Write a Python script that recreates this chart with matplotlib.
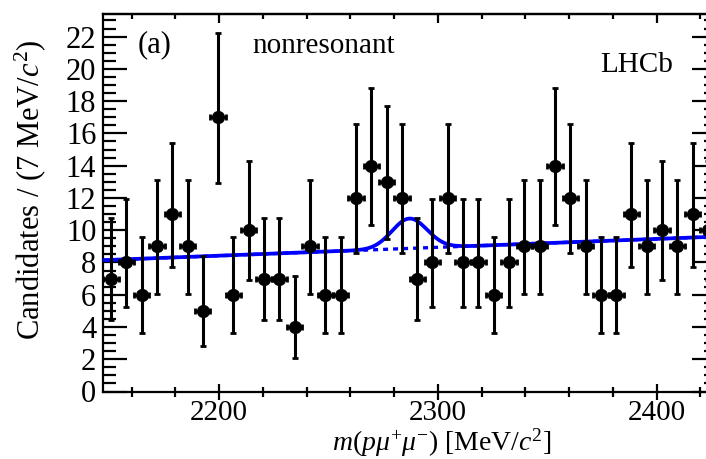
import numpy as np
import matplotlib.pyplot as plt
from matplotlib.ticker import MultipleLocator, FixedLocator

plt.rcParams['font.family'] = ['Liberation Serif', 'DejaVu Serif']
plt.rcParams['mathtext.fontset'] = 'custom'
plt.rcParams['mathtext.rm'] = 'Liberation Serif'
plt.rcParams['mathtext.it'] = 'Liberation Serif:italic'

# bin centres (7 MeV bins from 2147 to 2427) and candidate counts
mass = [2150.5 + 7 * i for i in range(40)]
counts = [7, 8, 6, 9, 11, 9, 5, 17, 6, 10, 7, 7, 4, 9, 6, 6, 12, 14, 13, 12,
          7, 8, 12, 8, 8, 6, 8, 9, 9, 14, 12, 9, 6, 6, 11, 9, 10, 9, 11, 10]

# asymmetric (Poisson) error bars, per count
err_lo = {4: 1.91, 5: 2.16, 6: 2.38, 7: 2.58, 8: 2.77, 9: 2.94, 10: 3.11,
          11: 3.27, 12: 3.42, 13: 3.56, 14: 3.70, 17: 4.08}
err_hi = {4: 3.16, 5: 3.38, 6: 3.58, 7: 3.77, 8: 3.95, 9: 4.11, 10: 4.27,
          11: 4.42, 12: 4.56, 13: 4.70, 14: 4.83, 17: 5.21}

# fit curve parameters
m_lo, m_hi = 2147, 2427
bkg_left, bkg_right = 8.14, 9.60
peak_mass, peak_sigma, peak_height = 2287.0, 8.0, 1.85

fig = plt.figure(figsize=(7.06, 4.59), dpi=100)
W, H = 706, 459
ax = fig.add_axes([103.3 / W, 1 - 391.5 / H, (715.7 - 103.3) / W, (391.5 - 14) / H])

m = np.linspace(m_lo, m_hi, 800)
bkg = bkg_left + (bkg_right - bkg_left) * (m - m_lo) / (m_hi - m_lo)
total = bkg + peak_height * np.exp(-0.5 * ((m - peak_mass) / peak_sigma) ** 2)
ax.plot(m, bkg, color='#0000ff', lw=2.4, ls=(0, (1.5, 1.5)), zorder=2)
ax.plot(m, total, color='#0000ff', lw=2.7, zorder=3)

lo = [err_lo[c] for c in counts]
hi = [err_hi[c] for c in counts]
ax.errorbar(mass, counts, yerr=[lo, hi], xerr=3.5, fmt='o', color='black',
            ms=8.5, elinewidth=2.2, capsize=2.4, capthick=2.0, zorder=4)

ax.set_xlim(m_lo, m_hi)
ax.set_ylim(0, 23.4)

for s in ax.spines.values():
    s.set_linewidth(1.6)

ax.xaxis.set_major_locator(FixedLocator([2200, 2300, 2400]))
ax.xaxis.set_minor_locator(MultipleLocator(20))
ax.yaxis.set_major_locator(MultipleLocator(2))
ax.yaxis.set_minor_locator(MultipleLocator(0.5))

ax.tick_params(axis='x', which='major', direction='inout', length=12, width=1.6,
               labelsize=21, pad=0, top=False)
ax.tick_params(axis='x', which='minor', direction='inout', length=7, width=1.6, top=False)
ax.tick_params(axis='y', which='major', direction='in', length=17, width=1.6,
               labelsize=22, pad=5, right=True)
ax.tick_params(axis='y', which='minor', direction='in', length=9, width=1.6, right=True)

top = ax.secondary_xaxis('top')
top.xaxis.set_major_locator(FixedLocator([2200, 2300, 2400]))
top.xaxis.set_minor_locator(MultipleLocator(20))
top.tick_params(which='major', direction='in', length=6.5, width=1.6, labeltop=False)
top.tick_params(which='minor', direction='in', length=3.6, width=1.6)
top.spines['top'].set_linewidth(1.6)

fig.text(442 / W, 1 - 443 / H, r'$m(p\mu^{+}\mu^{-})$ [MeV/$c^{2}$]', fontsize=20,
         ha='center', va='center')
fig.text(30 / W, 1 - 190 / H, r'Candidates / (7 MeV/$c^{2}$)', fontsize=22,
         ha='center', va='center', rotation=90)

fig.text(138 / W, 1 - 45 / H, '(a)', fontsize=22, ha='left', va='center')
fig.text(252 / W, 1 - 46 / H, 'nonresonant', fontsize=21, ha='left', va='center')
fig.text(600 / W, 1 - 65 / H, 'LHCb', fontsize=21, ha='left', va='center')

fig.savefig('out.png', dpi=100)
